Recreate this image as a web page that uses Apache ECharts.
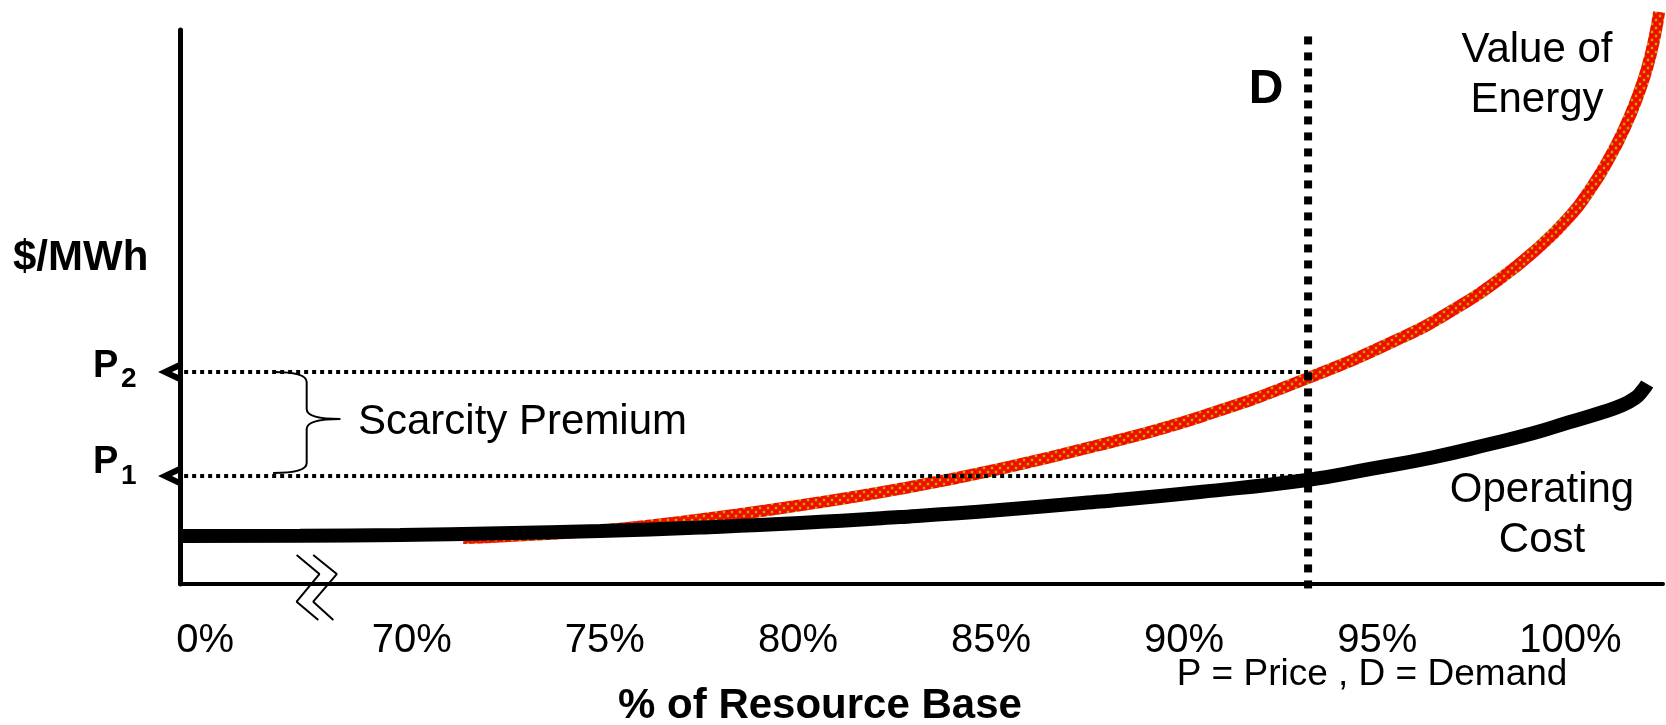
<!DOCTYPE html>
<html><head><meta charset="utf-8">
<script src="https://cdn.jsdelivr.net/npm/echarts@6/dist/echarts.min.js"></script>
<style>html,body{margin:0;padding:0;background:#fff}#c{width:1666px;height:725px}</style>
</head><body><div id="c"></div>
<script>
// ---- data (x = % of resource base, y = price in arbitrary $/MWh units 0..100) ----
const tickValues = [64.65, 70, 75, 80, 85, 90, 95, 100];
const tickLabels = ['0%', '70%', '75%', '80%', '85%', '90%', '95%', '100%'];

const operatingCostX = [64.00, 67.11, 69.70, 72.29, 74.88, 77.46, 80.05, 82.64, 85.23, 87.82, 90.41, 93.18, 94.81, 96.44, 97.92, 99.03, 99.99, 100.77, 101.29, 101.68, 101.88, 101.99];
const operatingCostY = [8.66, 8.72, 8.84, 9.15, 9.57, 10.20, 11.01, 12.09, 13.36, 14.89, 16.61, 18.77, 20.76, 22.87, 25.27, 27.20, 29.24, 30.87, 32.13, 33.57, 35.02, 36.10];

const valueEnergyX = [71.33, 72.29, 74.88, 77.46, 80.05, 82.64, 85.23, 87.82, 90.41, 93.21, 95.59, 96.88, 98.18, 99.22, 99.91, 100.51, 101.03, 101.42, 101.73, 101.99, 102.19, 102.30];
const valueEnergyY = [8.30, 8.59, 9.68, 11.66, 14.19, 17.17, 20.78, 25.11, 30.16, 37.18, 44.33, 49.12, 55.07, 60.99, 65.78, 71.17, 77.13, 82.55, 87.74, 93.16, 98.94, 103.25];

const demandX = 93.21;
const demandSpan = [-0.8, 100];
const priceP1 = 19.49;
const priceP2 = 38.27;
const priceLineStartX = 63.9;
const arrowX = 63.69;

// brace: [xLeft, yTop, xTip, yTip, yBottom]
const brace = [66.41, 38.27, 68.15, 29.78, 20.04];

// axis-break zigzags
const break1X = [67.02, 67.61, 67.02, 67.58];
const break2X = [67.45, 68.06, 67.45, 67.97];
const breakY = [5.23, 1.80, -3.19, -6.50];

const FONT = "'Liberation Sans', Arial, Helvetica, sans-serif";
const zip = (xs, ys) => xs.map((x, i) => [x, ys[i]]);

function makePattern() {
  const c = document.createElement('canvas');
  c.width = 8; c.height = 8;
  const g = c.getContext('2d');
  g.fillStyle = '#ff0800';
  g.fillRect(0, 0, 8, 8);
  g.fillStyle = '#92c000';
  const diamond = (cx, cy, r) => {
    g.beginPath();
    g.moveTo(cx, cy - r); g.lineTo(cx + r, cy); g.lineTo(cx, cy + r); g.lineTo(cx - r, cy);
    g.closePath(); g.fill();
  };
  diamond(4, 0, 1.7); diamond(0, 4, 1.7); diamond(8, 4, 1.7); diamond(4, 8, 1.7);
  g.fillStyle = '#e00000';
  g.fillRect(7, 7, 2, 1); g.fillRect(3, 3, 2, 1);
  return c;
}

const chart = echarts.init(document.getElementById('c'), null, {renderer: 'canvas'});
const chevron = 'path://M0,10 L20,0 L20,7 L14,10 L20,13 L20,20 Z';

chart.setOption({
  animation: false,
  backgroundColor: '#ffffff',
  grid: {left: 180, right: 3, top: 30, bottom: 141, containLabel: false},
  xAxis: {
    type: 'value', min: 64, max: 102.4,
    axisLine: {show: true, onZero: false, lineStyle: {color: '#000', width: 4}},
    axisTick: {show: false},
    splitLine: {show: false},
    axisLabel: {
      customValues: tickValues,
      formatter: v => {
        let best = 0;
        tickValues.forEach((t, i) => { if (Math.abs(t - v) < Math.abs(tickValues[best] - v)) best = i; });
        return tickLabels[best];
      },
      color: '#000', fontSize: 40, fontFamily: FONT,
      verticalAlign: 'middle', margin: 57
    }
  },
  yAxis: {
    type: 'value', min: 0, max: 100,
    axisLine: {show: true, lineStyle: {color: '#000', width: 5}},
    axisTick: {show: false}, axisLabel: {show: false}, splitLine: {show: false}
  },
  series: [
    {
      name: 'Value of Energy', type: 'line', smooth: 0.5, symbol: 'none', clip: false, z: 2,
      data: zip(valueEnergyX, valueEnergyY),
      lineStyle: {width: 12, color: {image: makePattern(), repeat: 'repeat'}, cap: 'butt'}
    },
    {
      name: 'Operating Cost', type: 'line', smooth: 0.5, symbol: 'none', clip: false, z: 3,
      data: zip(operatingCostX, operatingCostY),
      lineStyle: {width: 14, color: '#000', cap: 'butt'}
    },
    {
      name: 'P2', type: 'line', symbol: 'none', clip: false, z: 4,
      data: [[priceLineStartX, priceP2], [demandX, priceP2]],
      lineStyle: {width: 4, color: '#000', type: [4, 4], cap: 'butt'}
    },
    {
      name: 'P1', type: 'line', symbol: 'none', clip: false, z: 4,
      data: [[priceLineStartX, priceP1], [demandX, priceP1]],
      lineStyle: {width: 4, color: '#000', type: [4, 4], cap: 'butt'}
    },
    {
      name: 'Demand', type: 'line', symbol: 'none', clip: false, z: 5,
      data: [[demandX, demandSpan[0]], [demandX, demandSpan[1]]],
      lineStyle: {width: 8, color: '#000', type: [8, 8], cap: 'butt'}
    },
    {
      name: 'arrows', type: 'scatter', clip: false, z: 6,
      symbol: chevron, symbolSize: [20, 19],
      itemStyle: {color: '#000', opacity: 1},
      data: [[arrowX, priceP2], [arrowX, priceP1]]
    },
    {
      name: 'brk1', type: 'line', symbol: 'none', clip: false, z: 6,
      data: zip(break1X, breakY), lineStyle: {width: 2, color: '#000'}
    },
    {
      name: 'brk2', type: 'line', symbol: 'none', clip: false, z: 6,
      data: zip(break2X, breakY), lineStyle: {width: 2, color: '#000'}
    },
    {
      name: 'brace', type: 'custom', coordinateSystem: 'cartesian2d', clip: false, z: 6,
      data: [brace],
      encode: {x: 0, y: 1},
      renderItem: (params, api) => {
        const pT = api.coord([api.value(0), api.value(1)]);
        const pTip = api.coord([api.value(2), api.value(3)]);
        const pB = api.coord([api.value(0), api.value(4)]);
        const x0 = pT[0], x1 = pTip[0], yT = pT[1], ym = pTip[1], yB = pB[1];
        const xm = x0 + (x1 - x0) * 0.5;
        const r = 10;
        const st = {stroke: '#000', fill: 'none', lineWidth: 2};
        return {
          type: 'group',
          children: [
            {type: 'bezierCurve', shape: {x1: x0, y1: yT, x2: xm, y2: yT + r, cpx1: xm, cpy1: yT}, style: st},
            {type: 'line', shape: {x1: xm, y1: yT + r, x2: xm, y2: ym - r}, style: st},
            {type: 'bezierCurve', shape: {x1: xm, y1: ym - r, x2: x1, y2: ym, cpx1: xm, cpy1: ym}, style: st},
            {type: 'bezierCurve', shape: {x1: x1, y1: ym, x2: xm, y2: ym + r, cpx1: xm, cpy1: ym}, style: st},
            {type: 'line', shape: {x1: xm, y1: ym + r, x2: xm, y2: yB - r}, style: st},
            {type: 'bezierCurve', shape: {x1: xm, y1: yB - r, x2: x0, y2: yB, cpx1: xm, cpy1: yB}, style: st}
          ]
        };
      }
    }
  ],
  graphic: [
    {type: 'text', style: {text: '$/MWh', x: 13, y: 258, align: 'left', verticalAlign: 'middle', fontSize: 42, fontWeight: 'bold', fontFamily: FONT, fill: '#000'}},
    {type: 'text', style: {text: 'P', x: 93, y: 367, align: 'left', verticalAlign: 'middle', fontSize: 38, fontWeight: 'bold', fontFamily: FONT, fill: '#000'}},
    {type: 'text', style: {text: '2', x: 121, y: 379, align: 'left', verticalAlign: 'middle', fontSize: 28, fontWeight: 'bold', fontFamily: FONT, fill: '#000'}},
    {type: 'text', style: {text: 'P', x: 93, y: 463, align: 'left', verticalAlign: 'middle', fontSize: 38, fontWeight: 'bold', fontFamily: FONT, fill: '#000'}},
    {type: 'text', style: {text: '1', x: 121, y: 476, align: 'left', verticalAlign: 'middle', fontSize: 28, fontWeight: 'bold', fontFamily: FONT, fill: '#000'}},
    {type: 'text', style: {text: 'Scarcity Premium', x: 358, y: 422, align: 'left', verticalAlign: 'middle', fontSize: 42, fontFamily: FONT, fill: '#000'}},
    {type: 'text', style: {text: 'D', x: 1266, y: 90, align: 'center', verticalAlign: 'middle', fontSize: 48, fontWeight: 'bold', fontFamily: FONT, fill: '#000'}},
    {type: 'text', style: {text: 'Value of\nEnergy', x: 1537, y: 75, align: 'center', verticalAlign: 'middle', fontSize: 42, lineHeight: 50, fontFamily: FONT, fill: '#000'}},
    {type: 'text', style: {text: 'Operating\nCost', x: 1542, y: 515, align: 'center', verticalAlign: 'middle', fontSize: 42, lineHeight: 50, fontFamily: FONT, fill: '#000'}},
    {type: 'text', style: {text: '% of Resource Base', x: 820, y: 706, align: 'center', verticalAlign: 'middle', fontSize: 42, fontWeight: 'bold', fontFamily: FONT, fill: '#000'}},
    {type: 'text', style: {text: 'P = Price , D = Demand', x: 1372, y: 675, align: 'center', verticalAlign: 'middle', fontSize: 37, fontFamily: FONT, fill: '#000'}}
  ]
});
</script>
</body></html>
